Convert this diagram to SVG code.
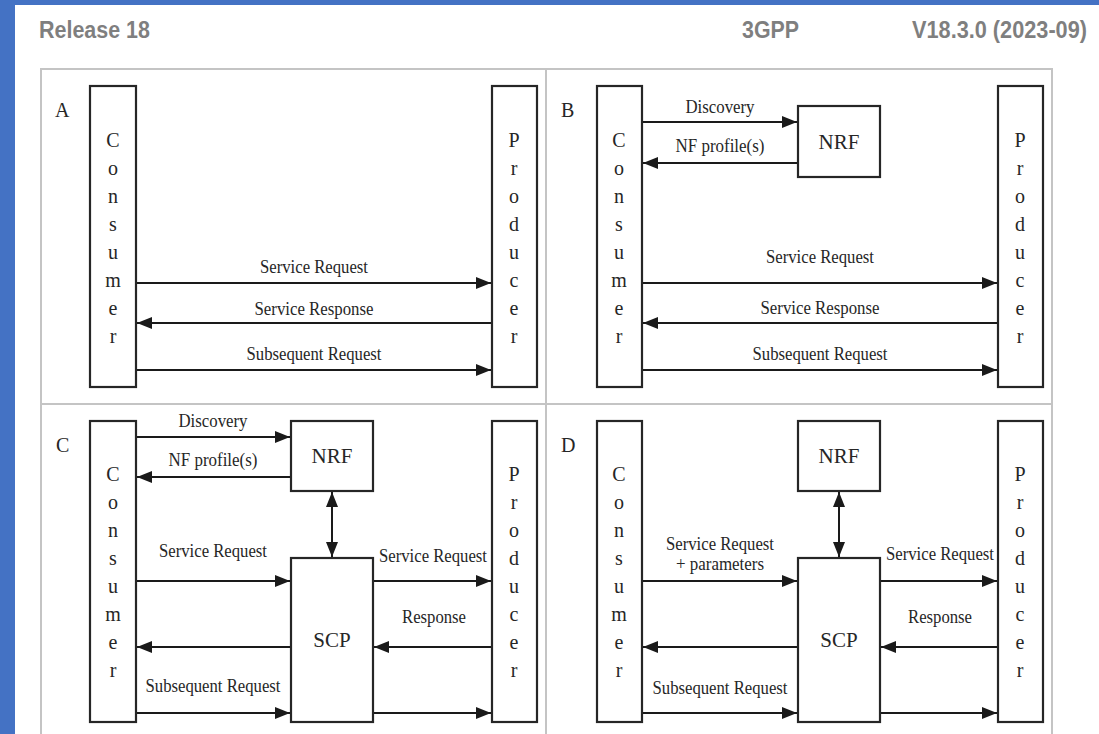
<svg xmlns="http://www.w3.org/2000/svg" width="1099" height="734" viewBox="0 0 1099 734">
<defs>
<style>
.frame{fill:none;stroke:#c4c4c4;stroke-width:2}
.box{fill:#fff;stroke:#262626;stroke-width:2.2}
.t{font-family:"Liberation Serif","Times New Roman",serif;font-size:18px;fill:#262626;text-anchor:middle}
.vt{font-size:20px}
.nf{font-size:21px}
.ql{font-size:20px;text-anchor:start}
.hdr{font-family:"Liberation Sans",Arial,sans-serif;font-weight:bold;font-size:23px;fill:#7f7f7f}
.conn line{stroke:#1a1a1a;stroke-width:2;marker-end:url(#ah)}
.conn line.bi{marker-start:url(#ah)}
</style>
<marker id="ah" markerUnits="userSpaceOnUse" markerWidth="15" markerHeight="12" refX="15" refY="6" orient="auto-start-reverse">
<path d="M0,0 L15,6 L0,12 z" fill="#1a1a1a"/>
</marker>
</defs>
<rect x="0" y="0" width="1099" height="734" fill="#fff"/>
<rect x="0" y="0" width="1099" height="5" fill="#4472c4"/>
<rect x="0" y="0" width="15" height="734" fill="#4472c4"/>

<g id="header">
<text class="hdr" x="39" y="38" textLength="111" lengthAdjust="spacingAndGlyphs">Release 18</text>
<text class="hdr" x="742" y="38" textLength="57" lengthAdjust="spacingAndGlyphs">3GPP</text>
<text class="hdr" x="912" y="38" textLength="175" lengthAdjust="spacingAndGlyphs">V18.3.0 (2023-09)</text>
</g>

<g id="frame">
<path class="frame" d="M41,745 V69 H1052 V745 M546,69 V745 M41,404 H1052"/>
</g>

<g id="labels">
<text class="t ql" x="55" y="117">A</text>
<text class="t ql" x="561" y="117">B</text>
<text class="t ql" x="56" y="452">C</text>
<text class="t ql" x="561" y="452">D</text>
</g>

<!-- Quadrant A -->
<g id="consumerA"><rect class="box" x="90" y="86" width="46" height="301"/>
<text class="t vt" x="113" y="147"><tspan x="113">C</tspan><tspan x="113" dy="28">o</tspan><tspan x="113" dy="28">n</tspan><tspan x="113" dy="28">s</tspan><tspan x="113" dy="28">u</tspan><tspan x="113" dy="28">m</tspan><tspan x="113" dy="28">e</tspan><tspan x="113" dy="28">r</tspan></text></g>
<g id="producerA"><rect class="box" x="492" y="86" width="45" height="301"/>
<text class="t vt" x="514" y="147"><tspan x="514">P</tspan><tspan x="514" dy="28">r</tspan><tspan x="514" dy="28">o</tspan><tspan x="514" dy="28">d</tspan><tspan x="514" dy="28">u</tspan><tspan x="514" dy="28">c</tspan><tspan x="514" dy="28">e</tspan><tspan x="514" dy="28">r</tspan></text></g>

<!-- Quadrant B -->
<g id="consumerB"><rect class="box" x="597" y="86" width="45" height="301"/>
<text class="t vt" x="619" y="147"><tspan x="619">C</tspan><tspan x="619" dy="28">o</tspan><tspan x="619" dy="28">n</tspan><tspan x="619" dy="28">s</tspan><tspan x="619" dy="28">u</tspan><tspan x="619" dy="28">m</tspan><tspan x="619" dy="28">e</tspan><tspan x="619" dy="28">r</tspan></text></g>
<g id="nrfB"><rect class="box" x="798" y="106" width="82" height="71"/>
<text class="t nf" x="839" y="149">NRF</text></g>
<g id="producerB"><rect class="box" x="998" y="86" width="45" height="301"/>
<text class="t vt" x="1020" y="147"><tspan x="1020">P</tspan><tspan x="1020" dy="28">r</tspan><tspan x="1020" dy="28">o</tspan><tspan x="1020" dy="28">d</tspan><tspan x="1020" dy="28">u</tspan><tspan x="1020" dy="28">c</tspan><tspan x="1020" dy="28">e</tspan><tspan x="1020" dy="28">r</tspan></text></g>

<!-- Quadrant C -->
<g id="consumerC"><rect class="box" x="90" y="421" width="46" height="301"/>
<text class="t vt" x="113" y="481"><tspan x="113">C</tspan><tspan x="113" dy="28">o</tspan><tspan x="113" dy="28">n</tspan><tspan x="113" dy="28">s</tspan><tspan x="113" dy="28">u</tspan><tspan x="113" dy="28">m</tspan><tspan x="113" dy="28">e</tspan><tspan x="113" dy="28">r</tspan></text></g>
<g id="nrfC"><rect class="box" x="291" y="421" width="82" height="70"/>
<text class="t nf" x="332" y="463">NRF</text></g>
<g id="scpC"><rect class="box" x="291" y="558" width="82" height="164"/>
<text class="t nf" x="332" y="647">SCP</text></g>
<g id="producerC"><rect class="box" x="492" y="421" width="45" height="301"/>
<text class="t vt" x="514" y="481"><tspan x="514">P</tspan><tspan x="514" dy="28">r</tspan><tspan x="514" dy="28">o</tspan><tspan x="514" dy="28">d</tspan><tspan x="514" dy="28">u</tspan><tspan x="514" dy="28">c</tspan><tspan x="514" dy="28">e</tspan><tspan x="514" dy="28">r</tspan></text></g>

<!-- Quadrant D -->
<g id="consumerD"><rect class="box" x="597" y="421" width="45" height="301"/>
<text class="t vt" x="619" y="481"><tspan x="619">C</tspan><tspan x="619" dy="28">o</tspan><tspan x="619" dy="28">n</tspan><tspan x="619" dy="28">s</tspan><tspan x="619" dy="28">u</tspan><tspan x="619" dy="28">m</tspan><tspan x="619" dy="28">e</tspan><tspan x="619" dy="28">r</tspan></text></g>
<g id="nrfD"><rect class="box" x="798" y="421" width="82" height="70"/>
<text class="t nf" x="839" y="463">NRF</text></g>
<g id="scpD"><rect class="box" x="798" y="558" width="82" height="164"/>
<text class="t nf" x="839" y="647">SCP</text></g>
<g id="producerD"><rect class="box" x="998" y="421" width="45" height="301"/>
<text class="t vt" x="1020" y="481"><tspan x="1020">P</tspan><tspan x="1020" dy="28">r</tspan><tspan x="1020" dy="28">o</tspan><tspan x="1020" dy="28">d</tspan><tspan x="1020" dy="28">u</tspan><tspan x="1020" dy="28">c</tspan><tspan x="1020" dy="28">e</tspan><tspan x="1020" dy="28">r</tspan></text></g>

<g id="connectors" class="conn">
<!-- A -->
<line x1="137" y1="283" x2="491" y2="283"/>
<line x1="491" y1="323" x2="137" y2="323"/>
<line x1="137" y1="370" x2="491" y2="370"/>
<!-- B -->
<line x1="643" y1="122" x2="797" y2="122"/>
<line x1="797" y1="163" x2="643" y2="163"/>
<line x1="643" y1="283" x2="997" y2="283"/>
<line x1="997" y1="323" x2="643" y2="323"/>
<line x1="643" y1="370" x2="997" y2="370"/>
<!-- C -->
<line x1="137" y1="437" x2="290" y2="437"/>
<line x1="290" y1="477" x2="137" y2="477"/>
<line class="bi" x1="332" y1="492" x2="332" y2="557"/>
<line x1="137" y1="581" x2="290" y2="581"/>
<line x1="374" y1="581" x2="491" y2="581"/>
<line x1="491" y1="647" x2="374" y2="647"/>
<line x1="290" y1="647" x2="137" y2="647"/>
<line x1="137" y1="713" x2="290" y2="713"/>
<line x1="374" y1="713" x2="491" y2="713"/>
<!-- D -->
<line class="bi" x1="839" y1="492" x2="839" y2="557"/>
<line x1="643" y1="581" x2="797" y2="581"/>
<line x1="881" y1="581" x2="997" y2="581"/>
<line x1="997" y1="647" x2="881" y2="647"/>
<line x1="797" y1="647" x2="643" y2="647"/>
<line x1="643" y1="713" x2="797" y2="713"/>
<line x1="881" y1="713" x2="997" y2="713"/>
</g>

<g id="connector-labels">
<text class="t" x="314" y="273" textLength="108" lengthAdjust="spacingAndGlyphs">Service Request</text>
<text class="t" x="314" y="315" textLength="119" lengthAdjust="spacingAndGlyphs">Service Response</text>
<text class="t" x="314" y="360" textLength="135" lengthAdjust="spacingAndGlyphs">Subsequent Request</text>
<text class="t" x="720" y="113" textLength="69" lengthAdjust="spacingAndGlyphs">Discovery</text>
<text class="t" x="720" y="152" textLength="89" lengthAdjust="spacingAndGlyphs">NF profile(s)</text>
<text class="t" x="820" y="263" textLength="108" lengthAdjust="spacingAndGlyphs">Service Request</text>
<text class="t" x="820" y="314" textLength="119" lengthAdjust="spacingAndGlyphs">Service Response</text>
<text class="t" x="820" y="360" textLength="135" lengthAdjust="spacingAndGlyphs">Subsequent Request</text>
<text class="t" x="213" y="427" textLength="69" lengthAdjust="spacingAndGlyphs">Discovery</text>
<text class="t" x="213" y="466" textLength="89" lengthAdjust="spacingAndGlyphs">NF profile(s)</text>
<text class="t" x="213" y="557" textLength="108" lengthAdjust="spacingAndGlyphs">Service Request</text>
<text class="t" x="433" y="562" textLength="108" lengthAdjust="spacingAndGlyphs">Service Request</text>
<text class="t" x="434" y="623" textLength="64" lengthAdjust="spacingAndGlyphs">Response</text>
<text class="t" x="213" y="692" textLength="135" lengthAdjust="spacingAndGlyphs">Subsequent Request</text>
<text class="t" x="720" y="550" textLength="108" lengthAdjust="spacingAndGlyphs">Service Request</text>
<text class="t" x="720" y="570" textLength="88" lengthAdjust="spacingAndGlyphs">+ parameters</text>
<text class="t" x="940" y="560" textLength="108" lengthAdjust="spacingAndGlyphs">Service Request</text>
<text class="t" x="940" y="623" textLength="64" lengthAdjust="spacingAndGlyphs">Response</text>
<text class="t" x="720" y="694" textLength="135" lengthAdjust="spacingAndGlyphs">Subsequent Request</text>
</g>
</svg>
